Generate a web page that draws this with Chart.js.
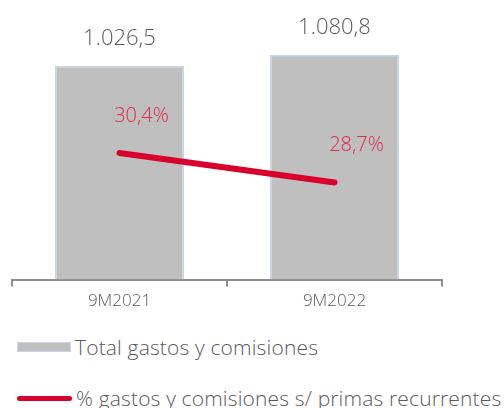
<!DOCTYPE html>
<html>
<head>
    <title>Gastos y comisiones</title>
    <script src="https://cdn.jsdelivr.net/npm/chart.js"></script>
    <style>
        body { margin: 0; background: #fff; font-family: "Open Sans", sans-serif; font-weight: 300; color: #595959; }
        #wrap { position: relative; width: 504px; height: 315px; }
        .legend { position: absolute; left: 17px; font-size: 21px; letter-spacing: 0.15px; display: flex; align-items: center; white-space: nowrap; }
        .swatch-bar { width: 52px; height: 8px; background: #bfbfbf; border: 1px solid #c6d6ea; margin-right: 4px; }
        .swatch-line { width: 55px; height: 5px; background: #d9002b; border-radius: 3px; margin-right: 4px; }
    </style>
</head>
<body>
    <div id="wrap"><canvas id="gastosChart"></canvas></div>
    <div class="legend" style="top:333px"><span class="swatch-bar"></span>Total gastos y comisiones</div>
    <div class="legend" style="top:384px"><span class="swatch-line"></span>% gastos y comisiones s/ primas recurrentes</div>
    <script>
        const periods = ['9M2021', '9M2022'];
        const totalGastos = [1026.5, 1080.8];
        const pctGastos = [30.4, 28.7];

        const fmtNum = v => v.toLocaleString('es-ES', { minimumFractionDigits: 1, maximumFractionDigits: 1, useGrouping: 'always' });

        // value labels over the bars and next to the line points
        const valueLabels = {
            id: 'valueLabels',
            afterDatasetsDraw(chart) {
                const ctx = chart.ctx;
                ctx.save();
                ctx.textAlign = 'center';
                ctx.textBaseline = 'middle';
                ctx.font = '300 22px "Open Sans"';
                ctx.fillStyle = '#595959';
                chart.getDatasetMeta(1).data.forEach((bar, i) => {
                    ctx.fillText(fmtNum(totalGastos[i]), bar.x, bar.y - 27);
                });
                ctx.font = '300 20px "Open Sans"';
                ctx.fillStyle = '#e0284a';
                chart.getDatasetMeta(0).data.forEach((pt, i) => {
                    ctx.fillText(fmtNum(pctGastos[i]) + '%', pt.x + 22, pt.y - 37);
                });
                ctx.restore();
            }
        };

        new Chart(document.getElementById('gastosChart'), {
            data: {
                labels: periods,
                datasets: [{
                    type: 'line',
                    label: '% gastos y comisiones s/ primas recurrentes',
                    data: pctGastos,
                    yAxisID: 'y2',
                    borderColor: '#d9002b',
                    borderWidth: 6,
                    borderCapStyle: 'round',
                    pointRadius: 0,
                    order: 0
                }, {
                    type: 'bar',
                    label: 'Total gastos y comisiones',
                    data: totalGastos,
                    yAxisID: 'y',
                    backgroundColor: '#bfbfbf',
                    borderColor: '#c6d6ea',
                    borderWidth: 1.5,
                    categoryPercentage: 0.6,
                    barPercentage: 1,
                    order: 1
                }]
            },
            options: {
                responsive: true,
                maintainAspectRatio: false,
                animation: false,
                layout: { padding: { left: 12, right: 62, top: 9 } },
                plugins: { legend: { display: false }, tooltip: { enabled: false } },
                scales: {
                    x: {
                        grid: { display: true, drawOnChartArea: false, tickLength: 7, color: '#8c8c8c', lineWidth: 2 },
                        border: { display: true, color: '#8c8c8c', width: 2 },
                        ticks: { color: '#595959', font: { family: 'Open Sans', weight: '300', size: 17 }, padding: 4 }
                    },
                    y: { display: false, min: 0, max: 1300 },
                    y2: { display: false, min: 23.1, max: 38.7 }
                }
            },
            plugins: [valueLabels]
        });
    </script>
</body>
</html>
